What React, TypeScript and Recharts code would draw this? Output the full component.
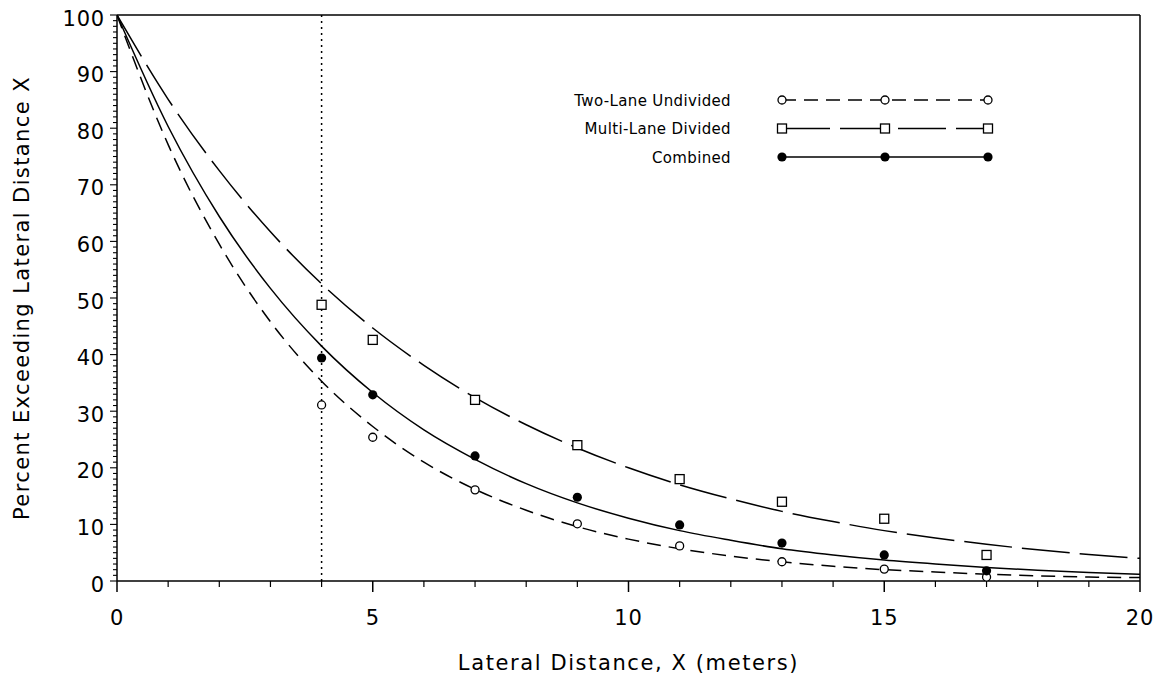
import React from 'react';
import {
  ComposedChart, Line, Scatter, XAxis, YAxis, ReferenceLine, Legend, Label
} from 'recharts';

const FONT = '"DejaVu Sans", Verdana, sans-serif';

// fitted curves at every metre
const curveX = [0, 1, 2, 3, 4, 5, 6, 7, 8, 9, 10, 11, 12, 13, 14, 15, 16, 17, 18, 19, 20];
const twoLaneCurve = [100, 77.1, 59.5, 45.8, 35.3, 27.3, 21.0, 16.2, 12.5, 9.6, 7.4, 5.7, 4.4, 3.4, 2.6, 2.0, 1.6, 1.2, 0.9, 0.7, 0.6];
const multiLaneCurve = [100, 85.1, 72.5, 61.7, 52.5, 44.7, 38.1, 32.4, 27.6, 23.5, 20.0, 17.0, 14.5, 12.3, 10.5, 8.9, 7.6, 6.5, 5.5, 4.7, 4.0];
const combinedCurve = [100, 80.3, 64.4, 51.7, 41.5, 33.3, 26.7, 21.5, 17.2, 13.8, 11.1, 8.9, 7.2, 5.7, 4.6, 3.7, 3.0, 2.4, 1.9, 1.5, 1.2];

// observed points
const obsX = [4, 5, 7, 9, 11, 13, 15, 17];
const twoLaneObs = [31.1, 25.4, 16.1, 10.1, 6.2, 3.4, 2.1, 0.7];
const multiLaneObs = [48.8, 42.6, 32.0, 24.0, 18.0, 14.0, 11.0, 4.6];
const combinedObs = [39.4, 32.9, 22.1, 14.8, 9.9, 6.7, 4.6, 1.8];

const seriesNames = ['Two-Lane Undivided', 'Multi-Lane Divided', 'Combined'];

const xMajorTicks = [0, 5, 10, 15, 20];
const yMajorTicks = [0, 10, 20, 30, 40, 50, 60, 70, 80, 90, 100];
const xAllTicks = Array.from({ length: 21 }, (_, i) => i);
const yAllTicks = Array.from({ length: 101 }, (_, i) => i);

const toPoints = (xs: number[], ys: number[]) => xs.map((x, i) => ({ x, y: ys[i] }));

const SHORT_DASH = '14 8';
const LONG_DASH = '48 10';

const OpenCircle = (p: any) => (
  <circle cx={p.cx} cy={p.cy} r={4} fill="#fff" stroke="#000" strokeWidth={1.3} />
);
const FilledCircle = (p: any) => <circle cx={p.cx} cy={p.cy} r={4.6} fill="#000" />;
const OpenSquare = (p: any) => (
  <rect x={p.cx - 4.5} y={p.cy - 4.5} width={9} height={9} fill="#fff" stroke="#000" strokeWidth={1.3} />
);

const XTick = ({ x, y, payload }: any) => {
  const major = xMajorTicks.includes(payload.value);
  return (
    <g>
      <line x1={x} x2={x} y1={y} y2={y + (major ? 11 : 6)} stroke="#000" strokeWidth={major ? 1.5 : 1.2} />
      {major && (
        <text x={x} y={y + 44} textAnchor="middle" fontSize={21} letterSpacing={0.8} fontFamily={FONT} fill="#000">
          {payload.value}
        </text>
      )}
    </g>
  );
};

const YTick = ({ x, y, payload }: any) => {
  const major = yMajorTicks.includes(payload.value);
  return (
    <g>
      <line x1={x - (major ? 7 : 4)} x2={x} y1={y} y2={y} stroke="#000" strokeWidth={1.1} />
      {major && (
        <text x={x - 12} y={y + 10.5} textAnchor="end" fontSize={21} letterSpacing={0.8} fontFamily={FONT} fill="#000">
          {payload.value}
        </text>
      )}
    </g>
  );
};

const legendRows = [
  { name: seriesNames[0], dash: SHORT_DASH, Marker: OpenCircle },
  { name: seriesNames[1], dash: LONG_DASH, Marker: OpenSquare },
  { name: seriesNames[2], dash: undefined, Marker: FilledCircle },
];

const LegendBox = () => (
  <svg width={460} height={90}>
    {legendRows.map((r, i) => {
      const cy = 15 + i * 28.5;
      return (
        <g key={r.name}>
          <text x={171} y={cy + 5.5} textAnchor="end" fontSize={15} letterSpacing={0.35} fontFamily={FONT} fill="#000">
            {r.name}
          </text>
          <line x1={222} x2={428} y1={cy} y2={cy} stroke="#000" strokeWidth={1.5} strokeDasharray={r.dash} />
          {[222, 325, 428].map(cx => <r.Marker key={cx} cx={cx} cy={cy} />)}
        </g>
      );
    })}
  </svg>
);

export default function App() {
  return (
    <div style={{ position: 'absolute', left: 0, top: 0, background: '#fff' }}>
      <ComposedChart width={1160} height={680} margin={{ top: 15, right: 20, bottom: 0, left: 0 }}>
        <XAxis
          type="number"
          dataKey="x"
          domain={[0, 20]}
          ticks={xAllTicks}
          interval={0}
          tick={(p: any) => <XTick {...p} />}
          tickLine={false}
          tickSize={0}
          tickMargin={0}
          axisLine={{ stroke: '#000', strokeWidth: 1.5 }}
          height={99}
          allowDataOverflow
        >
          <Label
            value="Lateral Distance, X (meters)"
            position="insideBottom"
            offset={10}
            style={{ fontSize: 21, letterSpacing: 1.6, fontFamily: FONT, fill: '#000' }}
          />
        </XAxis>
        <YAxis
          type="number"
          domain={[0, 100]}
          ticks={yAllTicks}
          interval={0}
          tick={(p: any) => <YTick {...p} />}
          tickLine={false}
          tickSize={0}
          tickMargin={0}
          axisLine={{ stroke: '#000', strokeWidth: 1.5 }}
          width={117}
          allowDataOverflow
        >
          <Label
            value="Percent Exceeding Lateral Distance X"
            position="insideLeft"
            angle={-90}
            offset={22}
            style={{ fontSize: 21, letterSpacing: 1.4, fontFamily: FONT, fill: '#000', textAnchor: 'middle' }}
          />
        </YAxis>
        <ReferenceLine y={100} stroke="#000" strokeWidth={1.5} />
        <ReferenceLine x={20} stroke="#000" strokeWidth={1.5} />
        <ReferenceLine x={4} stroke="#000" strokeWidth={1.5} strokeDasharray="2 4" />
        <Line
          data={toPoints(curveX, twoLaneCurve)}
          dataKey="y"
          type="monotone"
          stroke="#000"
          strokeWidth={1.5}
          strokeDasharray={SHORT_DASH}
          dot={false}
          activeDot={false}
          isAnimationActive={false}
          legendType="none"
        />
        <Line
          data={toPoints(curveX, multiLaneCurve)}
          dataKey="y"
          type="monotone"
          stroke="#000"
          strokeWidth={1.5}
          strokeDasharray={LONG_DASH}
          dot={false}
          activeDot={false}
          isAnimationActive={false}
          legendType="none"
        />
        <Line
          data={toPoints(curveX, combinedCurve)}
          dataKey="y"
          type="monotone"
          stroke="#000"
          strokeWidth={1.5}
          dot={false}
          activeDot={false}
          isAnimationActive={false}
          legendType="none"
        />
        <Scatter name={seriesNames[0]} data={toPoints(obsX, twoLaneObs)} dataKey="y" shape={OpenCircle} isAnimationActive={false} />
        <Scatter name={seriesNames[1]} data={toPoints(obsX, multiLaneObs)} dataKey="y" shape={OpenSquare} isAnimationActive={false} />
        <Scatter name={seriesNames[2]} data={toPoints(obsX, combinedObs)} dataKey="y" shape={FilledCircle} isAnimationActive={false} />
        <Legend
          layout="horizontal"
          verticalAlign="middle"
          align="center"
          content={() => <LegendBox />}
          wrapperStyle={{ position: 'absolute', left: 560, top: 85, width: 460, height: 90 }}
        />
      </ComposedChart>
    </div>
  );
}
